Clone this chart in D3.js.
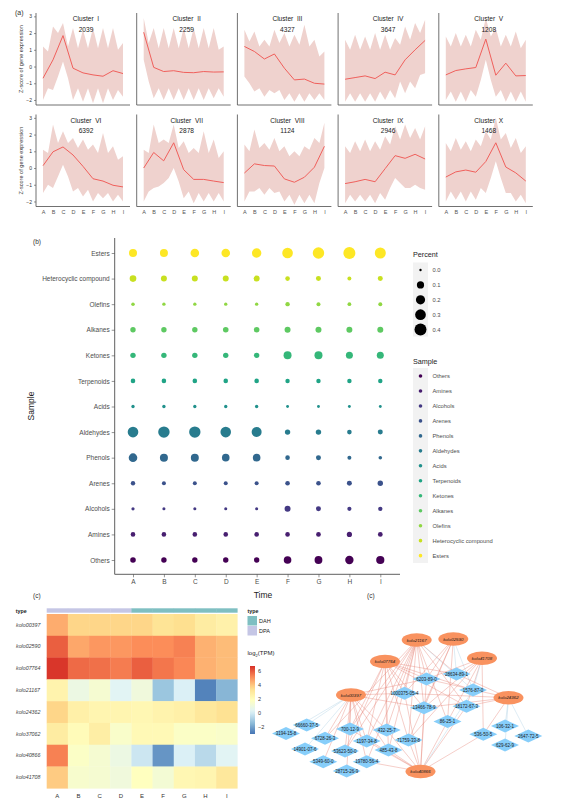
<!DOCTYPE html>
<html><head><meta charset="utf-8">
<script src="https://cdn.jsdelivr.net/npm/d3@7"></script>
<style>
body{margin:0;background:#fff}
text{font-family:"Liberation Sans",Arial,sans-serif}
</style>
</head><body>
<svg id="fig" width="570" height="807"></svg>
<script>
// ---------------- DATA ----------------
const times = ["A","B","C","D","E","F","G","H","I"];

// (a) clusters
const clusterNames = ["I","II","III","IV","V","VI","VII","VIII","IX","X"];
const clusterCounts = [2039, 2259, 4327, 3647, 1208, 6392, 2878, 1124, 2946, 1468];
const clusterMean = [
  [-0.7, 0.4, 1.85, -0.1, -0.38, -0.5, -0.58, -0.25, -0.42],
  [2.05, -0.05, -0.3, -0.25, -0.35, -0.37, -0.3, -0.33, -0.32],
  [1.2, 0.9, 0.45, 0.75, -0.1, -0.8, -0.75, -1.0, -1.05],
  [-0.76, -0.66, -0.56, -0.72, -0.34, -0.5, 0.4, 1.0, 1.56],
  [-0.5, -0.24, -0.14, -0.06, 1.64, -0.52, 0.2, -0.56, -0.54],
  [0.14, 0.97, 1.26, 0.78, 0.1, -0.64, -0.78, -1.03, -1.13],
  [0.0, 0.93, 0.43, 1.51, -0.1, -0.68, -0.68, -0.78, -0.87],
  [-0.3, 0.25, 0.15, 0.12, -0.65, -0.85, -0.55, 0.05, 1.3],
  [-0.93, -0.82, -0.68, -0.82, -0.04, 0.74, 0.58, 0.82, 0.54],
  [-0.54, -0.23, -0.12, -0.25, 0.39, 1.51, 0.06, -0.29, -0.78]
];
const clusterUpper = [
  [1.2, 2.4, 2.6, 2.3, 2.2, 2.3, 2.3, 2.3, 1.4],
  [2.9, 2.3, 2.3, 2.3, 2.3, 2.3, 2.3, 2.3, 1.2],
  [2.2, 2.1, 1.6, 2.2, 2.0, 1.9, 2.5, 1.6, 0.9],
  [1.6, 1.9, 1.8, 2.0, 1.9, 1.7, 2.4, 2.6, 2.8],
  [1.8, 2.0, 1.9, 2.2, 2.9, 2.3, 1.9, 2.1, 1.6],
  [1.1, 2.6, 2.2, 1.8, 1.7, 1.4, 2.1, 1.3, 0.7],
  [1.1, 2.6, 1.7, 2.6, 1.6, 1.2, 2.2, 1.7, 1.0],
  [1.4, 2.3, 1.5, 1.8, 1.3, 1.0, 1.3, 1.8, 2.7],
  [1.3, 1.6, 1.7, 1.6, 1.9, 2.5, 2.6, 2.4, 2.5],
  [1.5, 1.8, 1.6, 1.7, 2.2, 3.0, 2.1, 1.8, 1.3]
];
const clusterUpperMid = [
  [0.9, 2.0, 1.2, 1.1, 1.1, 1.1, 1.1, 1.0],
  [1.4, 1.1, 1.1, 1.1, 1.1, 1.1, 1.1, 1.0],
  [1.5, 1.2, 1.2, 1.4, 1.2, 1.3, 1.2, 0.6],
  [1.0, 1.0, 1.0, 1.0, 1.0, 1.3, 1.6, 2.0],
  [1.2, 1.2, 1.2, 1.6, 1.8, 1.2, 1.2, 1.1],
  [0.9, 1.5, 1.5, 1.2, 1.1, 0.9, 0.9, 0.5],
  [0.9, 1.5, 1.5, 1.2, 0.9, 0.9, 0.9, 0.6],
  [1.0, 1.2, 1.1, 1.0, 0.7, 0.7, 1.1, 1.5],
  [0.9, 1.0, 1.0, 1.1, 1.4, 1.7, 1.8, 1.7],
  [1.0, 1.1, 1.0, 1.3, 1.7, 1.7, 1.2, 0.9]
];
const clusterLower = [
  [-2.0, -1.4, 0.3, -2.0, -2.1, -2.2, -2.2, -2.0, -1.8],
  [0.4, -1.9, -2.0, -2.0, -2.0, -2.0, -2.0, -1.9, -1.8],
  [-0.6, -1.5, -1.8, -1.6, -2.0, -2.1, -2.1, -2.0, -2.0],
  [-2.1, -2.1, -2.1, -2.1, -2.0, -1.9, -1.6, -1.3, -0.4],
  [-2.0, -2.1, -2.1, -1.8, 0.4, -1.8, -2.1, -2.1, -2.1],
  [-1.5, -1.2, 0.2, -1.4, -1.7, -2.0, -1.8, -2.0, -2.0],
  [-2.0, -1.2, -0.9, 0.0, -1.8, -2.1, -2.0, -2.0, -2.0],
  [-2.0, -1.4, -1.6, -1.5, -2.0, -2.2, -2.1, -2.1, 0.0],
  [-2.1, -2.0, -2.0, -2.1, -1.9, -0.6, -1.2, -1.0, -1.3],
  [-2.0, -1.9, -2.0, -1.9, -1.5, 0.4, -1.5, -2.0, -2.1]
];
const clusterLowerMid = [
  [-1.3, -0.6, -0.7, -1.3, -1.3, -1.3, -1.3, -1.4],
  [-0.9, -1.3, -1.3, -1.3, -1.3, -1.3, -1.3, -1.3],
  [-1.0, -1.3, -1.4, -1.4, -1.6, -1.6, -1.6, -1.6],
  [-1.6, -1.6, -1.6, -1.5, -1.4, -0.9, -0.9, -0.5],
  [-1.5, -1.5, -1.4, -0.8, -0.8, -1.4, -1.5, -1.5],
  [-1.0, -0.5, -0.5, -1.2, -1.3, -1.5, -1.5, -1.6],
  [-1.4, -1.1, -0.6, -0.8, -1.4, -1.5, -1.5, -1.5],
  [-1.4, -1.2, -1.2, -1.4, -1.6, -1.6, -1.6, -0.9],
  [-1.6, -1.6, -1.6, -1.5, -1.2, -0.9, -1.2, -1.2],
  [-1.4, -1.4, -1.4, -1.2, -0.6, -0.6, -1.5, -1.6]
];
const zTicks = [-2, -1, 0, 1, 2, 3];

// (b) bubble chart
const compounds = ["Others","Amines","Alcohols","Arenes","Phenols","Aldehydes","Acids",
  "Terpenoids","Ketones","Alkanes","Olefins","Heterocyclic compound","Esters"];
const percent = {
  "Others":    [0.044,0.039,0.039,0.039,0.039,0.117,0.127,0.156,0.146],
  "Amines":    [0.021,0.021,0.021,0.021,0.021,0.021,0.024,0.034,0.024],
  "Alcohols":  [0.003,0.002,0.002,0.002,0.002,0.056,0.029,0.014,0.017],
  "Arenes":    [0.017,0.011,0.011,0.011,0.011,0.021,0.021,0.029,0.039],
  "Phenols":   [0.167,0.136,0.136,0.117,0.117,0.021,0.029,0.011,0.006],
  "Aldehydes": [0.292,0.352,0.352,0.292,0.251,0.039,0.039,0.021,0.029],
  "Acids":     [0.004,0.004,0.004,0.004,0.004,0.001,0.001,0.001,0.001],
  "Terpenoids":[0.021,0.021,0.021,0.021,0.021,0.018,0.018,0.018,0.018],
  "Ketones":   [0.039,0.039,0.039,0.039,0.039,0.136,0.136,0.092,0.092],
  "Alkanes":   [0.039,0.039,0.039,0.044,0.044,0.056,0.056,0.056,0.056],
  "Olefins":   [0.006,0.004,0.004,0.004,0.004,0.017,0.011,0.008,0.011],
  "Heterocyclic compound":[0.077,0.056,0.056,0.056,0.056,0.021,0.029,0.011,0.029],
  "Esters":    [0.136,0.136,0.167,0.167,0.213,0.292,0.352,0.400,0.321]
};
const percentLegend = [0.0, 0.1, 0.2, 0.3, 0.4];

// (c) heatmap
const genes = ["kolo00397","kolo02590","kolo07764","kolo21167","kolo24362","kolo37062","kolo40866","kolo41708"];
const sampleType = ["DPA","DPA","DPA","DPA","DAH","DAH","DAH","DAH","DAH"];
const typeLevels = ["DAH","DPA"];
const tpm = [
  [4.4,3.6,3.6,3.6,3.6,3.2,3.4,2.8,2.5],
  [5.8,4.5,4.8,4.8,5.0,5.0,5.2,4.3,4.1],
  [6.5,5.6,5.5,5.3,5.8,5.4,5.1,4.3,4.1],
  [2.4,0.8,1.3,0.3,1.0,-1.2,0.1,-2.7,-1.6],
  [3.6,2.6,2.3,2.3,2.2,2.4,2.6,3.0,3.3],
  [2.8,2.0,2.7,1.5,2.1,2.1,1.6,1.6,1.5],
  [5.2,1.6,1.3,0.8,-0.2,-2.3,0.1,-0.6,0.3],
  [3.8,1.4,1.3,1.0,1.8,1.2,2.2,2.3,3.0]
];
const tpmTicks = [-2, 0, 2, 4, 6];
const heatPalette = ["#4575B4","#91BFDB","#E0F3F8","#FFFFBF","#FEE090","#FC8D59","#D73027"];

// (d) network: layout coordinates from the network layout
const geneNodes = [
  ["kolo21167",136.7,5],["kolo02590",173.3,4],["kolo07764",105,26.5],["kolo41708",202,23.3],
  ["kolo00397",71,60],["kolo24362",228.5,62.7],["kolo40866",140.5,136.5]
];
const compoundNodes = [
  ["6203-89-0",146.5,44],["28634-89-1",176.5,39],["1000375-05-4",124.5,58.3],["1576-87-0",193,55],
  ["13466-78-9",144,72.7],["18172-67-3",186.5,71.3],["86-25-1",167.5,86.5],["66660-37-5",26.7,90],
  ["3194-15-8",6,98.5],["700-12-9",70,94],["432-25-7",106.7,95],["6728-26-3",45,103.3],
  ["1197-34-8",86.7,106],["71759-33-8",128.5,105],["14901-07-6",25,114],["53623-50-0",65,116],
  ["485-43-8",108.5,115],["5349-60-0",43.3,126.7],["19780-56-4",86.7,126.7],["28715-26-9",66.7,136],
  ["106-32-1",225,91],["536-50-5",203.3,99.3],["2647-72-5",248.3,101],["629-62-9",225,110]
];
const edges = [
  ["kolo21167","6203-89-0",1],["kolo21167","1000375-05-4",1],["kolo21167","13466-78-9",1],["kolo21167","700-12-9",1],
  ["kolo21167","432-25-7",1],["kolo21167","1197-34-8",1],["kolo21167","71759-33-8",1],["kolo21167","485-43-8",1],
  ["kolo21167","53623-50-0",1],["kolo21167","19780-56-4",1],["kolo21167","86-25-1",1],["kolo21167","28634-89-1",1],
  ["kolo21167","18172-67-3",1],["kolo21167","6728-26-3",1],["kolo21167","1576-87-0",-1],
  ["kolo07764","6203-89-0",1],["kolo07764","1000375-05-4",1],["kolo07764","13466-78-9",1],["kolo07764","700-12-9",1],
  ["kolo07764","432-25-7",1],["kolo07764","1197-34-8",1],["kolo07764","53623-50-0",1],["kolo07764","71759-33-8",1],
  ["kolo07764","28634-89-1",1],["kolo07764","1576-87-0",1],["kolo07764","18172-67-3",1],["kolo07764","485-43-8",1],
  ["kolo00397","700-12-9",1],["kolo00397","432-25-7",1],["kolo00397","1197-34-8",1],["kolo00397","53623-50-0",1],
  ["kolo00397","19780-56-4",1],["kolo00397","485-43-8",1],["kolo00397","6728-26-3",1],["kolo00397","28715-26-9",1],
  ["kolo00397","5349-60-0",1],["kolo00397","1000375-05-4",1],["kolo00397","6203-89-0",1],["kolo00397","13466-78-9",1],
  ["kolo00397","66660-37-5",-1],["kolo00397","3194-15-8",-1],["kolo00397","14901-07-6",-1],
  ["kolo02590","6203-89-0",1],["kolo02590","13466-78-9",1],["kolo02590","86-25-1",1],["kolo02590","1000375-05-4",1],
  ["kolo02590","71759-33-8",1],["kolo02590","28634-89-1",-1],["kolo02590","1576-87-0",-1],
  ["kolo41708","28634-89-1",1],["kolo41708","6203-89-0",1],["kolo41708","13466-78-9",1],["kolo41708","536-50-5",1],
  ["kolo41708","18172-67-3",1],["kolo41708","86-25-1",1],["kolo41708","71759-33-8",1],["kolo41708","1576-87-0",-1],
  ["kolo24362","28634-89-1",1],["kolo24362","18172-67-3",1],["kolo24362","13466-78-9",1],["kolo24362","536-50-5",1],
  ["kolo24362","1000375-05-4",1],["kolo24362","6203-89-0",1],["kolo24362","106-32-1",-1],["kolo24362","2647-72-5",-1],
  ["kolo24362","629-62-9",-1],
  ["kolo40866","13466-78-9",1],["kolo40866","86-25-1",1],["kolo40866","536-50-5",1],["kolo40866","432-25-7",1],
  ["kolo40866","700-12-9",1],["kolo40866","19780-56-4",1],["kolo40866","71759-33-8",1],["kolo40866","485-43-8",1],
  ["kolo40866","1000375-05-4",1],["kolo40866","6203-89-0",1],["kolo40866","1197-34-8",1],["kolo40866","18172-67-3",1],
  ["kolo40866","1576-87-0",-1]
];

// ---------------- DRAW ----------------
const svg = d3.select("#fig");
const axisCol = "#4d4d4d";
const txtCol = "#4d4d4d";

// ===== Panel (a)
svg.append("text").attr("x",15).attr("y",15).attr("font-size",7).attr("fill","#333").text("(a)");
const zScale = (top) => d3.scaleLinear().domain([-2.3, 3.2]).range([top + 92, top]);
clusterNames.forEach((name, k) => {
  const col = k % 5, row = Math.floor(k / 5);
  const x0 = 36 + col * 100.7;
  const top = row === 0 ? 13 : 114.5;
  const y = zScale(top);
  const x = d3.scalePoint().domain(times).range([x0 + 7, x0 + 87]);
  const g = svg.append("g");
  const cid = "clip" + k;
  svg.append("clipPath").attr("id", cid).append("rect")
    .attr("x", x0).attr("y", top).attr("width", 94).attr("height", 92);
  const pts = [];
  times.forEach((t, i) => {
    pts.push({x: x(t), u: clusterUpper[k][i], l: clusterLower[k][i]});
    if (i < times.length - 1)
      pts.push({x: (x(t) + x(times[i+1])) / 2, u: clusterUpperMid[k][i], l: clusterLowerMid[k][i]});
  });
  const area = d3.area().x(d => d.x).y0(d => y(d.l)).y1(d => y(d.u));
  g.append("path").attr("d", area(pts)).attr("fill", "#efd2ce").attr("clip-path", `url(#${cid})`);
  const line = d3.line().x((d, i) => x(times[i])).y(d => y(d));
  g.append("path").attr("d", line(clusterMean[k])).attr("fill", "none")
    .attr("stroke", "#f0605c").attr("stroke-width", 1);
  // axes
  g.append("line").attr("x1", x0).attr("x2", x0).attr("y1", top).attr("y2", top + 92)
    .attr("stroke", axisCol).attr("stroke-width", 0.8);
  g.append("line").attr("x1", x0).attr("x2", x0 + 94).attr("y1", top + 92).attr("y2", top + 92)
    .attr("stroke", axisCol).attr("stroke-width", 0.8);
  if (col === 0) {
    const ax = g.append("g").attr("transform", `translate(${x0},0)`)
      .call(d3.axisLeft(y).tickValues(zTicks).tickSize(2).tickPadding(2).tickFormat(d3.format("d")));
    ax.select(".domain").remove();
    ax.selectAll("line").attr("stroke", axisCol).attr("stroke-width", 0.6);
    ax.selectAll("text").attr("font-size", 5).attr("fill", "#333")
      .attr("font-family", '"Liberation Sans",Arial,sans-serif');
    g.append("text").attr("transform", `translate(23,${top + 46}) rotate(-90)`)
      .attr("text-anchor", "middle").attr("font-size", 5.6).attr("fill", "#333")
      .text("Z-score of gene expression");
  }
  if (row === 1) {
    const ax = g.append("g").attr("transform", `translate(0,${top + 92})`)
      .call(d3.axisBottom(x).tickSize(0).tickPadding(4));
    ax.select(".domain").remove();
    ax.selectAll("text").attr("font-size", 5.5).attr("fill", "#555")
      .attr("font-family", '"Liberation Serif","Times New Roman",serif');
  }
  g.append("text").attr("x", x0 + 50).attr("y", top + 8.3).attr("text-anchor", "middle")
    .attr("font-size", 6.6).attr("fill", "#222").text("Cluster\u00a0\u00a0" + name);
  g.append("text").attr("x", x0 + 50).attr("y", top + 18.5).attr("text-anchor", "middle")
    .attr("font-size", 6.6).attr("fill", "#222").text(clusterCounts[k]);
});

// ===== Panel (b)
svg.append("text").attr("x",33).attr("y",244).attr("font-size",6.5).attr("fill","#333").text("(b)");
const bx = d3.scalePoint().domain(times).range([133, 380.3]);
const by = d3.scalePoint().domain(compounds).range([560, 253]);
const rScale = d3.scaleSqrt().domain([0, 0.4]).range([1.2, 6]);
const colB = d3.scaleOrdinal().domain(compounds).range(compounds.map((c, i) => d3.interpolateViridis(i / (compounds.length - 1))));
const gb = svg.append("g");
gb.append("line").attr("x1",114.7).attr("x2",114.7).attr("y1",238).attr("y2",574.3).attr("stroke",axisCol).attr("stroke-width",0.9);
gb.append("line").attr("x1",114.7).attr("x2",400).attr("y1",574.3).attr("y2",574.3).attr("stroke",axisCol).attr("stroke-width",0.9);
const bya = gb.append("g").attr("transform","translate(114.7,0)").call(d3.axisLeft(by).tickSize(3).tickPadding(2));
bya.select(".domain").remove();
bya.selectAll("line").attr("stroke", axisCol).attr("stroke-width",0.6);
bya.selectAll("text").attr("font-size",6.5).attr("fill",txtCol).attr("font-family",'"Liberation Sans",Arial,sans-serif');
const bxa = gb.append("g").attr("transform","translate(0,574.3)").call(d3.axisBottom(bx).tickSize(3).tickPadding(2));
bxa.select(".domain").remove();
bxa.selectAll("line").attr("stroke", axisCol).attr("stroke-width",0.6);
bxa.selectAll("text").attr("font-size",6.5).attr("fill",txtCol).attr("font-family",'"Liberation Sans",Arial,sans-serif');
compounds.forEach(c => {
  percent[c].forEach((v, i) => {
    gb.append("circle").attr("cx", bx(times[i])).attr("cy", by(c)).attr("r", rScale(v)).attr("fill", colB(c));
  });
});
gb.append("text").attr("x",263).attr("y",598).attr("text-anchor","middle").attr("font-size",8.5).attr("fill","#222").text("Time");
gb.append("text").attr("transform","translate(34,406) rotate(-90)").attr("text-anchor","middle").attr("font-size",8.5).attr("fill","#222").text("Sample");
// legends
gb.append("text").attr("x",413).attr("y",257).attr("font-size",7.2).attr("fill","#222").text("Percent");
gb.append("rect").attr("x",413).attr("y",262.5).attr("width",15).attr("height",74).attr("fill","#f2f2f2");
percentLegend.forEach((v, i) => {
  const yy = 270 + i * 14.9;
  gb.append("circle").attr("cx",420.5).attr("cy",yy).attr("r",rScale(v)).attr("fill","#000");
  gb.append("text").attr("x",432.5).attr("y",yy).attr("dy","0.35em").attr("font-size",5.8).attr("fill",txtCol).text(v.toFixed(1));
});
gb.append("text").attr("x",413).attr("y",363.5).attr("font-size",7.2).attr("fill","#222").text("Sample");
gb.append("rect").attr("x",413).attr("y",368).attr("width",15).attr("height",195).attr("fill","#f2f2f2");
compounds.forEach((c, i) => {
  const yy = 376 + i * 14.97;
  gb.append("circle").attr("cx",420.5).attr("cy",yy).attr("r",1.8).attr("fill",colB(c));
  gb.append("text").attr("x",432.5).attr("y",yy).attr("dy","0.35em").attr("font-size",5.8).attr("fill",txtCol).text(c);
});

// ===== Panel (c) heatmap
svg.append("text").attr("x",33).attr("y",598).attr("font-size",6.5).attr("fill","#333").text("(c)");
const hx = d3.scaleBand().domain(times).range([46.7, 237.3]);
const hy = d3.scaleBand().domain(genes).range([614, 788.3]);
const tpmDomain = [-3, 6.6];
const heatCol = d3.scaleLinear()
  .domain(heatPalette.map((c, i) => tpmDomain[0] + i * (tpmDomain[1] - tpmDomain[0]) / (heatPalette.length - 1)))
  .range(heatPalette).interpolate(d3.interpolateRgb).clamp(true);
const typeCol = d3.scaleOrdinal().domain(typeLevels).range(["#7fbfc2", "#c5c6e5"]);
const gh = svg.append("g");
times.forEach((t, i) => {
  gh.append("rect").attr("x", hx(t)).attr("y", 608.3).attr("width", hx.bandwidth() + 0.3).attr("height", 4.4).attr("fill", typeCol(sampleType[i]));
});
genes.forEach((gname, r) => {
  times.forEach((t, i) => {
    gh.append("rect").attr("x", hx(t)).attr("y", hy(gname)).attr("width", hx.bandwidth() + 0.3)
      .attr("height", hy.bandwidth() + 0.3).attr("fill", heatCol(tpm[r][i]));
  });
});
const hya = gh.append("g").attr("transform","translate(16,0)").call(d3.axisRight(hy).tickSize(0).tickPadding(0));
hya.select(".domain").remove();
hya.selectAll("text").attr("font-size",5.3).attr("fill","#444").attr("font-style","italic")
  .attr("font-family",'"Liberation Sans",Arial,sans-serif');
const hxa = gh.append("g").attr("transform","translate(0,788.3)").call(d3.axisBottom(hx).tickSize(0).tickPadding(5));
hxa.select(".domain").remove();
hxa.selectAll("text").attr("font-size",6).attr("fill","#333").attr("font-family",'"Liberation Sans",Arial,sans-serif');
gh.append("text").attr("x",15.7).attr("y",612.8).attr("font-size",5.3).attr("font-weight","bold").attr("fill","#222").text("type");
gh.append("text").attr("x",247.5).attr("y",613).attr("font-size",5.3).attr("font-weight","bold").attr("fill","#222").text("type");
typeLevels.forEach((tl, i) => {
  gh.append("rect").attr("x",247.5).attr("y",616 + i * 10).attr("width",9.5).attr("height",9.5).attr("fill",typeCol(tl));
  gh.append("text").attr("x",259).attr("y",621 + i * 10).attr("dy","0.35em").attr("font-size",5.5).attr("fill","#222").text(tl);
});
gh.append("text").attr("x",247.5).attr("y",655).attr("font-size",6).attr("fill","#222")
  .html('log<tspan font-size="4" dy="1.5">2</tspan><tspan dy="-1.5">(TPM)</tspan>');
const barY = d3.scaleLinear().domain(tpmDomain).range([734, 666]);
const grad = svg.append("defs").append("linearGradient").attr("id","tpmgrad").attr("x1",0).attr("x2",0).attr("y1",1).attr("y2",0);
d3.range(0, 1.0001, 0.05).forEach(t => {
  grad.append("stop").attr("offset", t).attr("stop-color", heatCol(tpmDomain[0] + t * (tpmDomain[1] - tpmDomain[0])));
});
gh.append("rect").attr("x",250).attr("y",666).attr("width",5).attr("height",68).attr("fill","url(#tpmgrad)");
const ba = gh.append("g").attr("transform","translate(255,0)").call(d3.axisRight(barY).tickValues(tpmTicks).tickSize(0).tickPadding(3).tickFormat(d => d < 0 ? "\u2212" + Math.abs(d) : d));
ba.select(".domain").remove();
ba.selectAll("text").attr("font-size",5.5).attr("fill","#333").attr("font-family",'"Liberation Sans",Arial,sans-serif');

// ===== Panel (d) network
svg.append("text").attr("x",367).attr("y",598).attr("font-size",6.5).attr("fill","#333").text("(c)");
const nx = d3.scaleLinear().domain([0, 250]).range([280, 530]);
const ny = d3.scaleLinear().domain([0, 140]).range([635, 775]);
const pos = new Map();
geneNodes.forEach(d => pos.set(d[0], [nx(d[1]), ny(d[2])]));
compoundNodes.forEach(d => pos.set(d[0], [nx(d[1]), ny(d[2])]));
const gn = svg.append("g");
edges.forEach(e => {
  const a = pos.get(e[0]), b = pos.get(e[1]);
  gn.append("line").attr("x1", a[0]).attr("y1", a[1]).attr("x2", b[0]).attr("y2", b[1])
    .attr("stroke", e[2] > 0 ? "#e47f70" : "#a9cde3").attr("stroke-width", 0.45).attr("stroke-opacity", 0.85);
});
compoundNodes.forEach(d => {
  const [cx, cy] = pos.get(d[0]);
  gn.append("path").attr("d", `M${cx - 14},${cy} L${cx},${cy - 6.5} L${cx + 14},${cy} L${cx},${cy + 6.5} Z`).attr("fill", "#87cefa");
  gn.append("text").attr("x", cx).attr("y", cy).attr("dy", "0.35em").attr("text-anchor", "middle")
    .attr("font-size", 4.5).attr("fill", "#1a1a1a").text(d[0]);
});
geneNodes.forEach(d => {
  const [cx, cy] = pos.get(d[0]);
  gn.append("ellipse").attr("cx", cx).attr("cy", cy).attr("rx", 15).attr("ry", 6.7).attr("fill", "#f9925f");
  gn.append("text").attr("x", cx).attr("y", cy).attr("dy", "0.35em").attr("text-anchor", "middle")
    .attr("font-size", 4.4).attr("font-style", "italic").attr("fill", "#1a1a1a").text(d[0]);
});
</script>
</body></html>
